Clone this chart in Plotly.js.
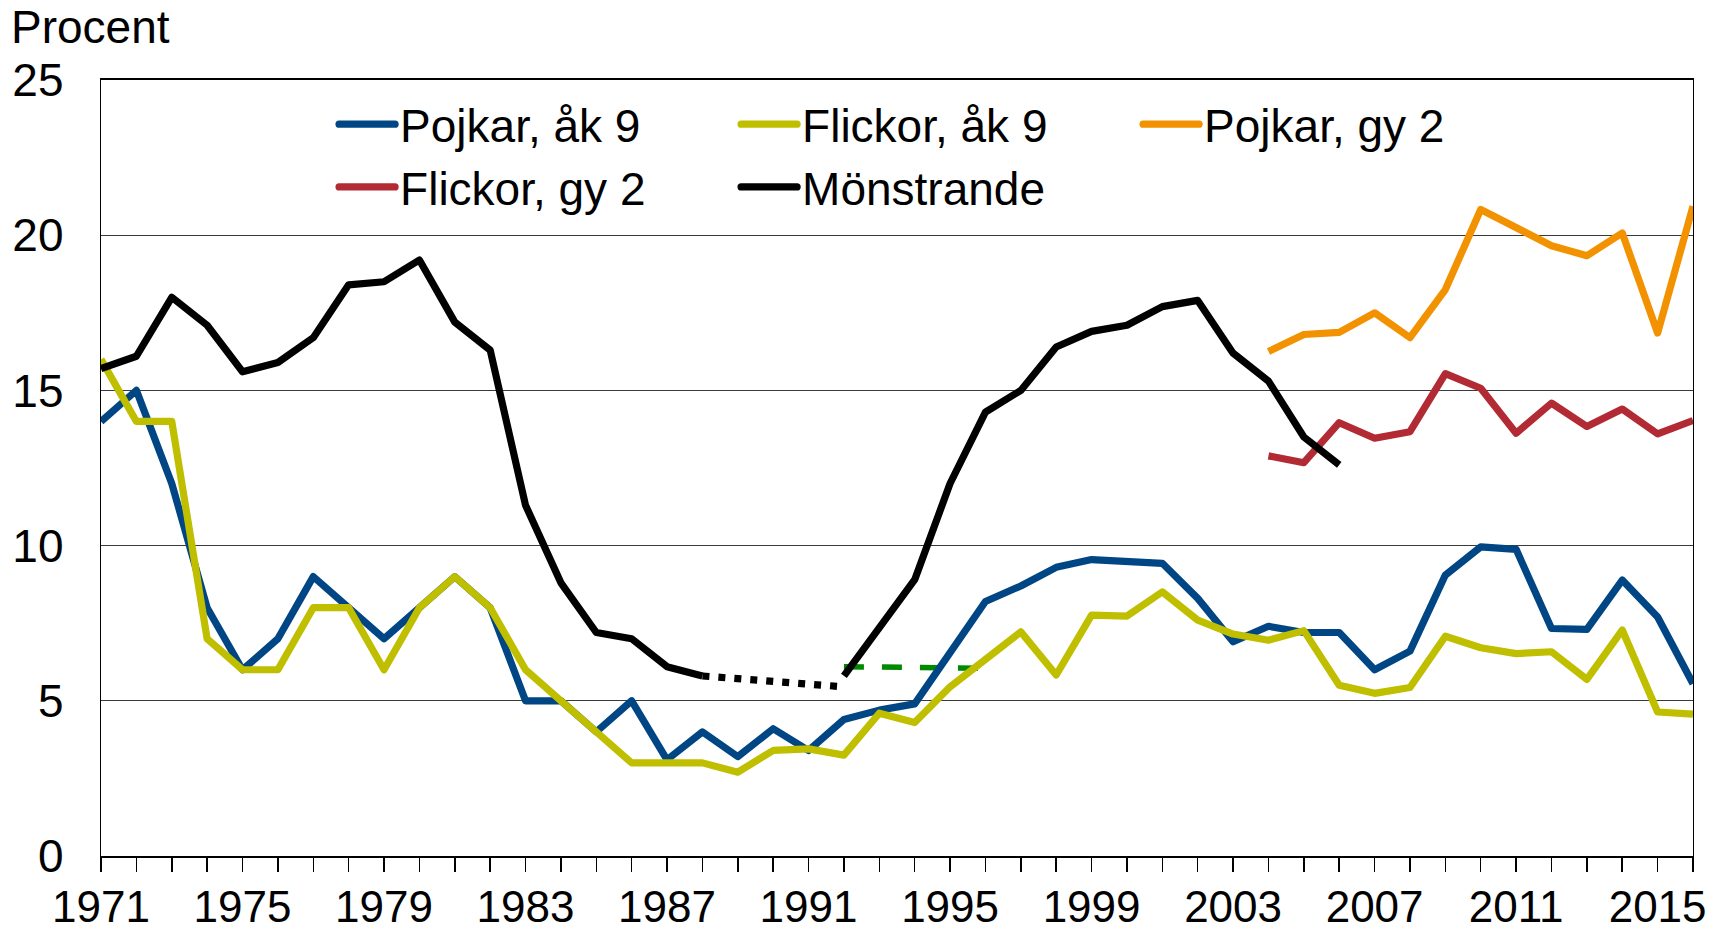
<!DOCTYPE html>
<html>
<head>
<meta charset="utf-8">
<script src="https://cdn.plot.ly/plotly-3.0.1.min.js"></script>
<style>
  html, body { margin: 0; padding: 0; background: #fff; }
  #chart { width: 1709px; height: 928px; }
  path.js-line { stroke-linejoin: round; }
  .legend path.js-line { stroke-linecap: round; }
</style>
</head>
<body>
<div id="chart"></div>
<script>
// ---- Data ----
var years = [1971,1972,1973,1974,1975,1976,1977,1978,1979,1980,
             1981,1982,1983,1984,1985,1986,1987,1988,1989,1990,
             1991,1992,1993,1994,1995,1996,1997,1998,1999,2000,
             2001,2002,2003,2004,2005,2006,2007,2008,2009,2010,
             2011,2012,2013,2014,2015,2016];

var pojkarAk9 = [14.0,15.0,12.0,8.0,6.0,7.0,9.0,8.0,7.0,8.0,
                 9.0,8.0,5.0,5.0,4.0,5.0,3.1,4.0,3.2,4.1,
                 3.4,4.4,4.7,4.9,6.6,8.2,8.7,9.3,9.55,9.5,
                 9.43,8.3,6.9,7.4,7.2,7.2,6.0,6.6,9.05,9.96,
                 9.88,7.33,7.3,8.89,7.7,5.55];

var flickorAk9 = [16.0,14.0,14.0,7.0,6.0,6.0,8.0,8.0,6.0,8.0,
                  9.0,8.0,6.0,5.0,4.0,3.0,3.0,3.0,2.7,3.4,
                  3.45,3.25,4.6,4.3,5.45,6.35,7.22,5.83,7.76,7.73,
                  8.51,7.6,7.15,6.95,7.26,5.5,5.24,5.43,7.08,6.71,
                  6.52,6.58,5.69,7.28,4.64,4.57];

var gyYears = [2004,2005,2006,2007,2008,2009,2010,2011,2012,2013,2014,2015,2016];
var pojkarGy2 = [16.25,16.8,16.87,17.5,16.7,18.25,20.83,20.24,19.66,19.34,20.07,16.85,20.93];
var flickorGy2 = [12.89,12.67,13.96,13.46,13.67,15.54,15.07,13.62,14.59,13.84,14.40,13.6,14.03];

var monstYears = [1971,1972,1973,1974,1975,1976,1977,1978,1979,1980,
                  1981,1982,1983,1984,1985,1986,1987,1988,1989,1990,
                  1991,1992,1993,1994,1995,1996,1997,1998,1999,2000,
                  2001,2002,2003,2004,2005,2006];
var monstrande = [15.7,16.1,18.0,17.1,15.6,15.9,16.7,18.4,18.5,19.2,
                  17.2,16.3,11.3,8.8,7.2,7.0,6.1,5.8,null,null,
                  null,5.8,7.33,8.9,12.0,14.3,15.0,16.4,16.9,17.1,
                  17.7,17.9,16.2,15.3,13.5,12.6];

var gapYears = [1988, 1992];
var monstrandeGap = [5.8, 5.45];

var greenYears = [1992, 1996];
var greenValues = [6.1, 6.05];

var legendNames = ['Pojkar, åk 9', 'Flickor, åk 9', 'Pojkar, gy 2', 'Flickor, gy 2', 'Mönstrande'];
var yTicks = [0, 5, 10, 15, 20, 25];

// ---- Styling ----
var FONT = 'Liberation Sans, Arial, Helvetica, sans-serif';
var FS = 46;
var LW = 7.2;

var traces = [
  { x: greenYears, y: greenValues, mode: 'lines', showlegend: false, hoverinfo: 'skip',
    line: { color: '#008a00', width: 5.5, dash: '20px,18px' } },
  { x: years, y: pojkarAk9, name: legendNames[0], mode: 'lines',
    line: { color: '#004684', width: LW } },
  { x: years, y: flickorAk9, name: legendNames[1], mode: 'lines',
    line: { color: '#bfbf00', width: LW } },
  { x: gyYears, y: pojkarGy2, name: legendNames[2], mode: 'lines',
    line: { color: '#f39200', width: LW } },
  { x: gyYears, y: flickorGy2, name: legendNames[3], mode: 'lines',
    line: { color: '#b22a33', width: LW } },
  { x: monstYears, y: monstrande, name: legendNames[4], mode: 'lines', connectgaps: false,
    line: { color: '#000000', width: LW } },
  { x: gapYears, y: monstrandeGap, mode: 'lines', showlegend: false, hoverinfo: 'skip',
    line: { color: '#000000', width: LW, dash: '7px,9px' } }
];

var layout = {
  width: 1709, height: 928,
  margin: { l: 101, r: 16, t: 80, b: 72, pad: 0 },
  paper_bgcolor: '#ffffff', plot_bgcolor: '#ffffff',
  font: { family: FONT, size: FS, color: '#000000' },
  showlegend: true,
  legend: {
    orientation: 'h', x: 0.1464, xanchor: 'left', y: 0.99, yanchor: 'top',
    bgcolor: 'rgba(0,0,0,0)', borderwidth: 0,
    font: { family: FONT, size: FS, color: '#000000' },
    itemwidth: 56, entrywidth: 331, traceorder: 'normal'
  },
  xaxis: {
    range: [1971, 2016], tickmode: 'linear', tick0: 1971, dtick: 4,
    ticks: 'outside', ticklen: 14, tickwidth: 1.5, tickcolor: '#000',
    showgrid: false, zeroline: false,
    showline: true, linecolor: '#000', linewidth: 2, mirror: true,
    tickfont: { family: FONT, size: 44, color: '#000' },
    ticklabelstandoff: -3,
    minor: { tick0: 1971, dtick: 1, ticks: 'outside', ticklen: 14, tickwidth: 1.5, tickcolor: '#000', showgrid: false },
    fixedrange: true
  },
  yaxis: {
    range: [0, 25], tickmode: 'array', tickvals: yTicks, ticktext: yTicks.map(String),
    ticks: '', showgrid: true, gridcolor: '#3a3a3a', gridwidth: 1.3,
    zeroline: false, showline: true, linecolor: '#000', linewidth: 1.3, mirror: true,
    tickfont: { family: FONT, size: FS, color: '#000' },
    ticklabelstandoff: 27,
    fixedrange: true
  },
  annotations: [{
    text: 'Procent', xref: 'paper', yref: 'paper',
    x: -0.0575, y: 1.068, xanchor: 'left', yanchor: 'middle',
    showarrow: false, font: { family: FONT, size: FS, color: '#000' }
  }]
};

Plotly.newPlot('chart', traces, layout, { staticPlot: true, displayModeBar: false });
</script>
</body>
</html>
